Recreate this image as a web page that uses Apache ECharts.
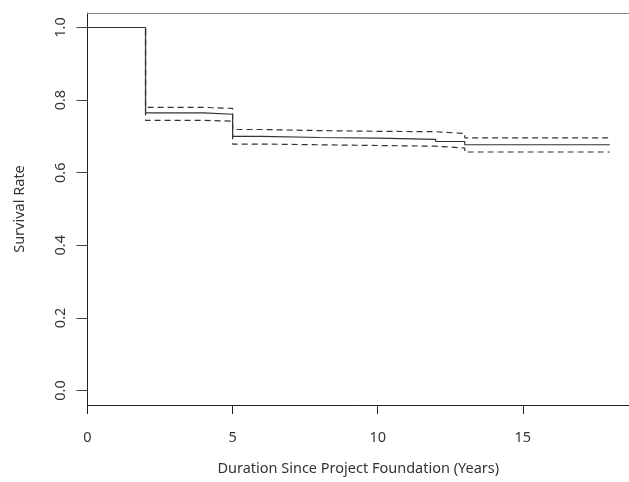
<!DOCTYPE html>
<html>
<head>
<meta charset="utf-8">
<script src="https://cdn.jsdelivr.net/npm/echarts@6/dist/echarts.min.js"></script>
<style>html,body{margin:0;padding:0;background:#fff;overflow:hidden}#c{width:629px;height:482px}</style>
</head>
<body>
<div id="c"></div>
<script>
// Kaplan-Meier estimate (step points: time, value)
var times    = [0, 2, 4, 5, 6, 8, 10, 12, 13, 18];
var survival = [1.0, 0.765, 0.761, 0.700, 0.697, 0.695, 0.692, 0.686, 0.677, 0.677];
var upperCI  = [1.0, 0.780, 0.777, 0.719, 0.716, 0.714, 0.713, 0.708, 0.696, 0.696];
var lowerCI  = [1.0, 0.744, 0.742, 0.679, 0.677, 0.675, 0.673, 0.668, 0.657, 0.657];
var yTicks   = [0, 0.2, 0.4, 0.6, 0.8, 1.0];
var xTicks   = [0, 5, 10, 15];

function pairs(ys){ return times.map(function(t,i){ return [t, ys[i]]; }); }

var FONT = 'Noto Sans';
var FS = 14.5;
var XMAX = 18.66;
var chart = echarts.init(document.getElementById('c'));
chart.setOption({
  animation: false,
  backgroundColor: '#fff',
  textStyle: { fontFamily: FONT },
  grid: { left: 87.5, top: 13, right: 0, bottom: 77, containLabel: false },
  xAxis: [{
    type: 'value', min: 0, max: XMAX,
    name: 'Duration Since Project Foundation (Years)',
    nameLocation: 'middle', nameGap: 56,
    nameTextStyle: { fontSize: FS, color: '#333', fontFamily: FONT },
    axisLine: { show: true, onZero: false, lineStyle: { color: '#222', width: 1 } },
    axisTick: { show: true, length: 9, customValues: xTicks, lineStyle: { color: '#222' } },
    axisLabel: { customValues: xTicks, fontSize: FS, color: '#333', margin: 25, fontFamily: FONT },
    splitLine: { show: false }
  }, {
    type: 'value', min: 0, max: XMAX, position: 'top',
    axisLine: { show: true, onZero: false, lineStyle: { color: '#888', width: 1.2 } },
    axisTick: { show: false }, axisLabel: { show: false }, splitLine: { show: false }
  }],
  yAxis: {
    type: 'value', min: -0.04, max: 1.04,
    name: 'Survival Rate',
    nameLocation: 'middle', nameGap: 60, nameRotate: 90,
    nameTextStyle: { fontSize: FS, color: '#333', fontFamily: FONT },
    axisLine: { show: true, onZero: false, lineStyle: { color: '#222', width: 1 } },
    axisTick: { show: true, length: 11, customValues: yTicks, lineStyle: { color: '#444' } },
    axisLabel: { customValues: yTicks, rotate: 90, fontSize: FS, color: '#333', margin: 19, fontFamily: FONT,
      formatter: function(v){ return v.toFixed(1); } },
    splitLine: { show: false }
  },
  series: [
    { type: 'line', step: 'end', data: pairs(upperCI), symbol: 'none', z: 2,
      lineStyle: { color: '#333', width: 1.2, type: [6, 4] } },
    { type: 'line', step: 'end', data: pairs(lowerCI), symbol: 'none', z: 2,
      lineStyle: { color: '#333', width: 1.2, type: [6, 4] } },
    { type: 'line', step: 'end', data: pairs(survival), symbol: 'none', z: 3,
      lineStyle: { color: '#333', width: 1.2 } }
  ]
});
</script>
</body>
</html>
